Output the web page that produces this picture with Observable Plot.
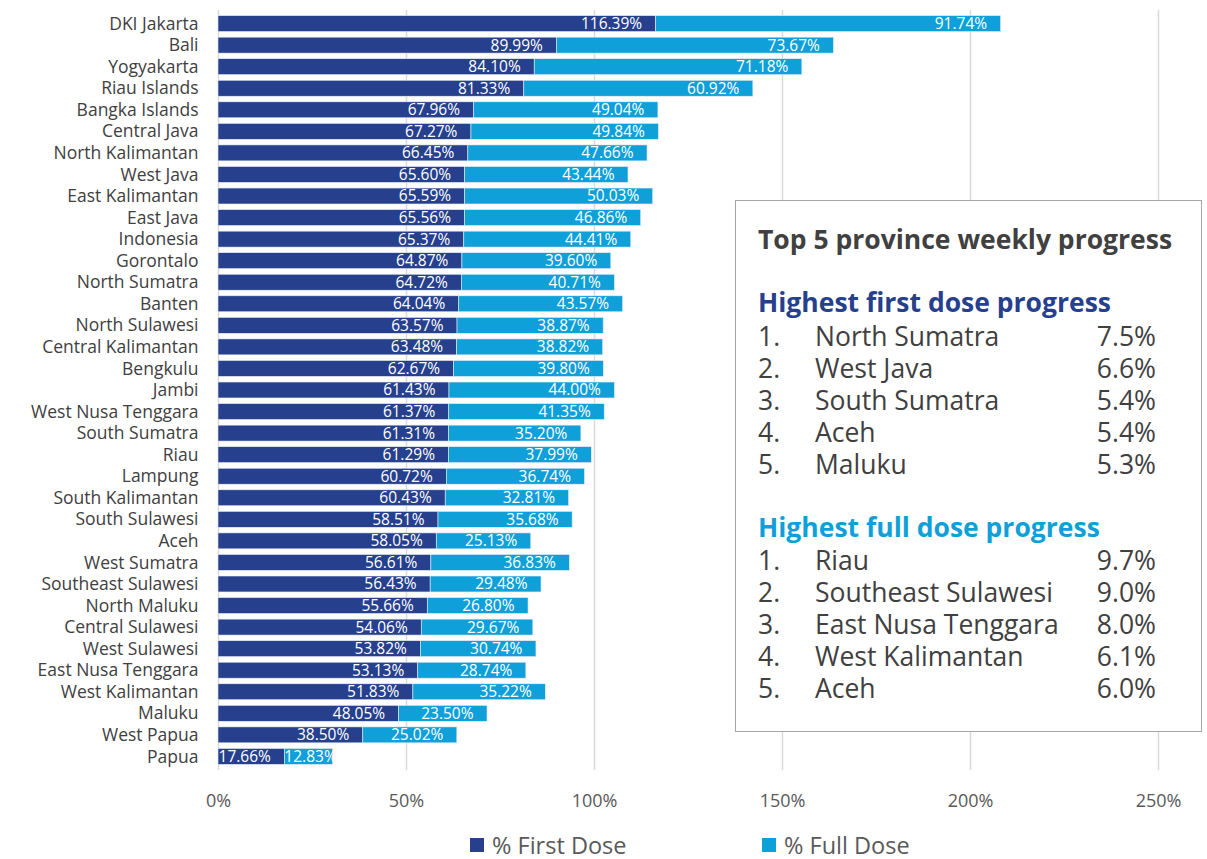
<!DOCTYPE html>
<html>
<head>
<meta charset="utf-8">
<script src="https://cdn.jsdelivr.net/npm/d3@7"></script>
<script src="https://cdn.jsdelivr.net/npm/@observablehq/plot@0.6"></script>
<style>
  html, body { margin: 0; padding: 0; background: #fff; }
  body { width: 1207px; height: 859px; position: relative; overflow: hidden; font-family: "Open Sans", sans-serif; }
  #chart { position: absolute; left: 0; top: 0; }
  .legend { position: absolute; top: 832px; height: 26px; line-height: 26px; font-size: 23.5px; color: #595959; display: flex; align-items: center; white-space: nowrap; }
  .legend .sw { width: 14px; height: 14px; display: inline-block; margin-right: 8px; }
  #box { position: absolute; left: 735px; top: 200px; width: 467px; height: 532px; border: 1.5px solid #a6a6a6; background: #fff; box-sizing: border-box; }
  #box .t { position: absolute; left: 22px; font-weight: 700; white-space: nowrap; }
  #box .row { position: absolute; left: 22px; width: 398px; font-size: 26.5px; color: #404040; white-space: nowrap; height: 32px; line-height: 32px; }
  #box .row .n { position: absolute; left: 0; }
  #box .row .p { position: absolute; left: 57px; }
  #box .row .v { position: absolute; right: 0; }
</style>
</head>
<body>
<div id="chart"></div>
<div class="legend" style="left:470px"><span class="sw" style="background:#26408E"></span>% First Dose</div>
<div class="legend" style="left:762px"><span class="sw" style="background:#0FA0DA"></span>% Full Dose</div>
<div id="box"></div>
<script>
const provinces = ["DKI Jakarta","Bali","Yogyakarta","Riau Islands","Bangka Islands","Central Java","North Kalimantan","West Java","East Kalimantan","East Java","Indonesia","Gorontalo","North Sumatra","Banten","North Sulawesi","Central Kalimantan","Bengkulu","Jambi","West Nusa Tenggara","South Sumatra","Riau","Lampung","South Kalimantan","South Sulawesi","Aceh","West Sumatra","Southeast Sulawesi","North Maluku","Central Sulawesi","West Sulawesi","East Nusa Tenggara","West Kalimantan","Maluku","West Papua","Papua"];
const firstDose = [116.39,89.99,84.10,81.33,67.96,67.27,66.45,65.60,65.59,65.56,65.37,64.87,64.72,64.04,63.57,63.48,62.67,61.43,61.37,61.31,61.29,60.72,60.43,58.51,58.05,56.61,56.43,55.66,54.06,53.82,53.13,51.83,48.05,38.50,17.66];
const fullDose = [91.74,73.67,71.18,60.92,49.04,49.84,47.66,43.44,50.03,46.86,44.41,39.60,40.71,43.57,38.87,38.82,39.80,44.00,41.35,35.20,37.99,36.74,32.81,35.68,25.13,36.83,29.48,26.80,29.67,30.74,28.74,35.22,23.50,25.02,12.83];
const seriesNames = ["% First Dose", "% Full Dose"];
const seriesColors = ["#26408E", "#0FA0DA"];
const xTicks = [0, 50, 100, 150, 200, 250];

const boxTitle = "Top 5 province weekly progress";
const firstTitle = "Highest first dose progress";
const firstNames = ["North Sumatra","West Java","South Sumatra","Aceh","Maluku"];
const firstValues = ["7.5%","6.6%","5.4%","5.4%","5.3%"];
const fullTitle = "Highest full dose progress";
const fullNames = ["Riau","Southeast Sulawesi","East Nusa Tenggara","West Kalimantan","Aceh"];
const fullValues = ["9.7%","9.0%","8.0%","6.1%","6.0%"];

const rows = [];
provinces.forEach((p, i) => {
  rows.push({province: p, series: seriesNames[0], start: 0, end: firstDose[i], value: firstDose[i]});
  rows.push({province: p, series: seriesNames[1], start: firstDose[i], end: firstDose[i] + fullDose[i], value: fullDose[i]});
});

const chart = Plot.plot({
  width: 1207,
  height: 820,
  marginLeft: 218,
  marginRight: 49,
  marginTop: 10,
  marginBottom: 50,
  style: {fontFamily: "'Open Sans', sans-serif", background: "transparent"},
  x: {domain: [0, 250], ticks: xTicks, tickFormat: d => d + "%"},
  y: {domain: provinces, padding: 0.26, round: false},
  color: {domain: seriesNames, range: seriesColors},
  marks: [
    Plot.ruleX(xTicks, {x: d => d, stroke: "#d9d9d9", strokeWidth: 1.5}),
    Plot.barX(rows, {y: "province", x1: "start", x2: "end", fill: "series", stroke: "#e8edf5", strokeWidth: 0.6}),
    Plot.text(rows, {
      y: "province",
      x: d => Math.max(d.end, d.start + 17.5),
      text: d => d.value.toFixed(2) + "%",
      textAnchor: "end",
      dx: -14,
      fill: "white",
      fontSize: 15.5
    }),
    Plot.axisX({ticks: xTicks, tickFormat: d => d + "%", tickSize: 0, tickPadding: 24, fontSize: 18, color: "#595959", label: null}),
    Plot.axisY({tickSize: 0, tickPadding: 20, fontSize: 17.5, color: "#404040", label: null})
  ]
});
document.getElementById("chart").appendChild(chart);

const box = document.getElementById("box");
function addText(cls, txt, top, style) {
  const el = document.createElement("div");
  el.className = cls;
  el.textContent = txt;
  el.style.top = top + "px";
  Object.assign(el.style, style || {});
  box.appendChild(el);
  return el;
}
addText("t", boxTitle, 20, {fontSize: "26.5px", color: "#404040"});
addText("t", firstTitle, 83, {fontSize: "26.5px", color: "#26408E"});
firstNames.forEach((n, i) => {
  const r = document.createElement("div");
  r.className = "row";
  r.style.top = (119 + i * 32) + "px";
  r.innerHTML = `<span class="n">${i + 1}.</span><span class="p">${n}</span><span class="v">${firstValues[i]}</span>`;
  box.appendChild(r);
});
addText("t", fullTitle, 308, {fontSize: "26.5px", color: "#0FA0DA"});
fullNames.forEach((n, i) => {
  const r = document.createElement("div");
  r.className = "row";
  r.style.top = (343 + i * 32) + "px";
  r.innerHTML = `<span class="n">${i + 1}.</span><span class="p">${n}</span><span class="v">${fullValues[i]}</span>`;
  box.appendChild(r);
});
</script>
</body>
</html>
